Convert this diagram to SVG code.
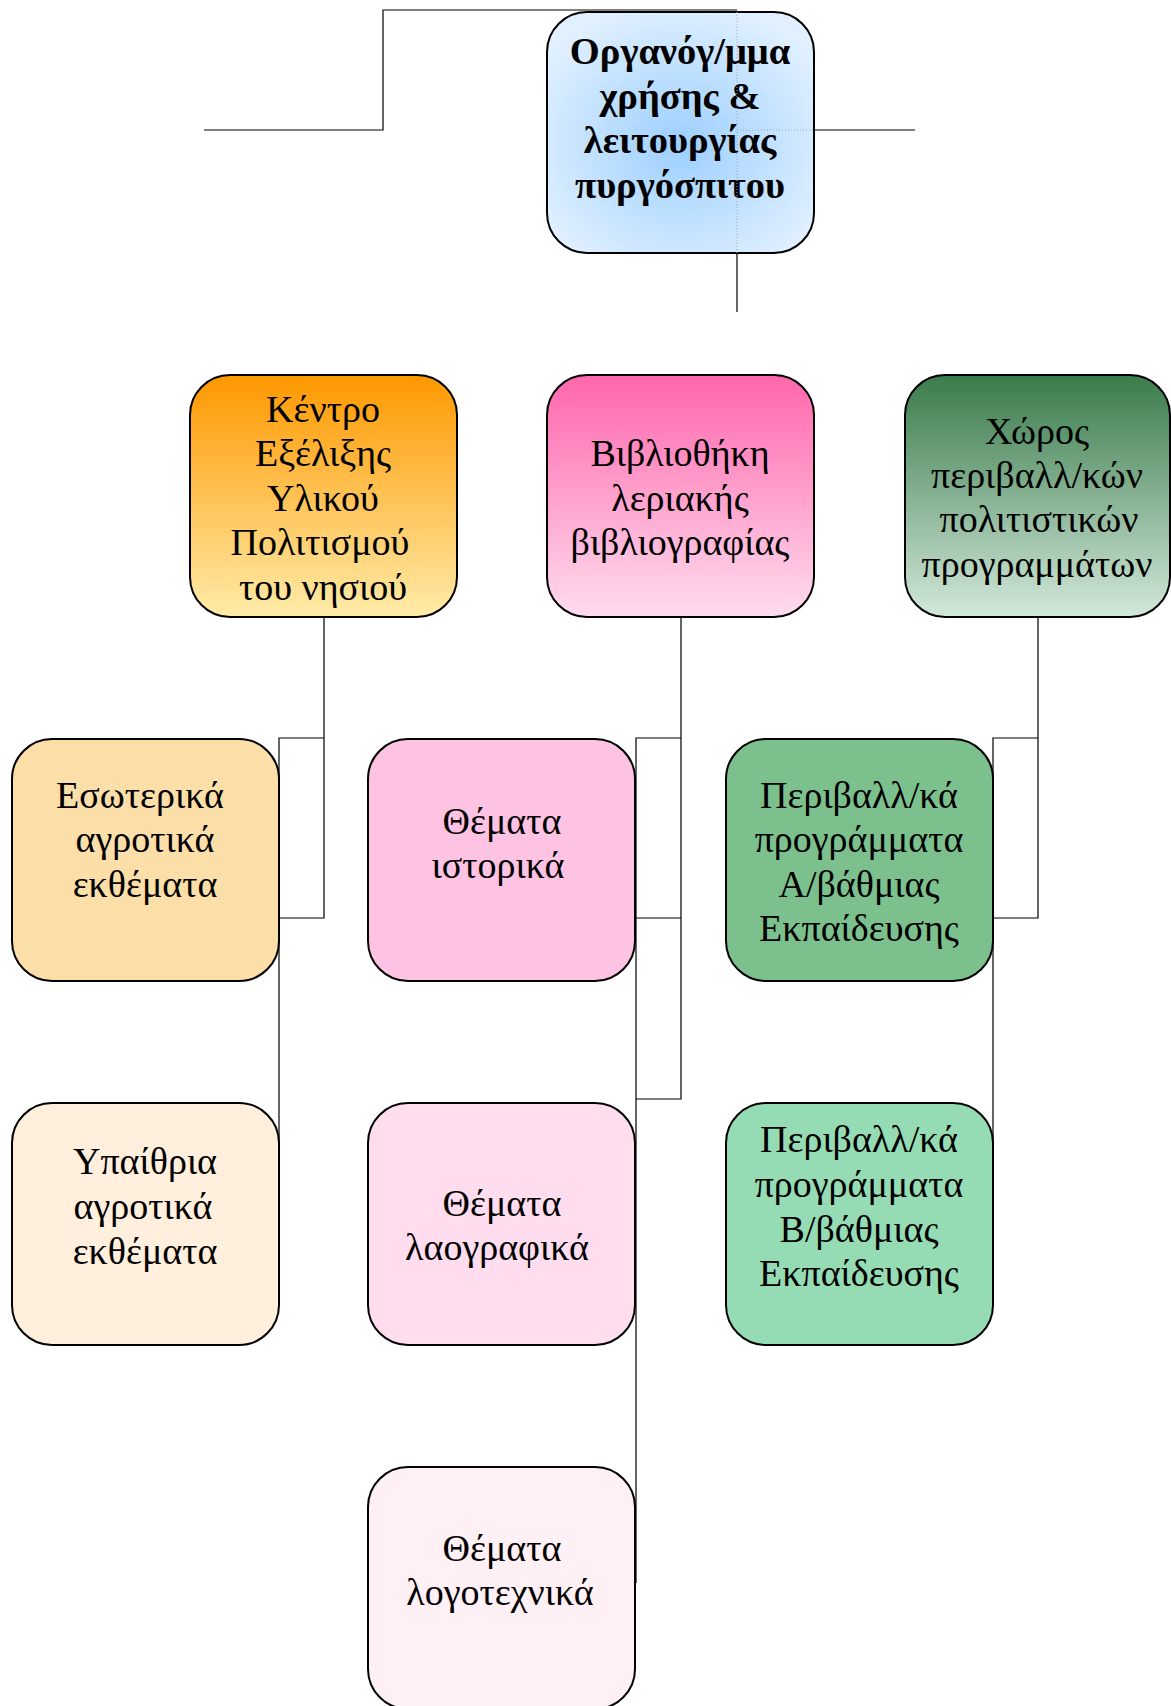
<svg xmlns="http://www.w3.org/2000/svg" width="1171" height="1706" viewBox="0 0 1171 1706">
<style>
.box{stroke:#000;stroke-width:2}
.t{font-family:"Liberation Serif","Times New Roman",serif;font-size:38px;fill:#000;text-anchor:middle}
.b{font-weight:bold;font-size:38.5px}
.ln{stroke:#000;stroke-width:1.2;fill:none}
.dot{stroke:#9aa8b8;stroke-width:1;stroke-dasharray:1 2;fill:none}
</style>
<defs>
<radialGradient id="gBlue" cx="0.5" cy="0.55" r="0.6">
<stop offset="0" stop-color="#9ccfff"/>
<stop offset="1" stop-color="#e0f0ff"/>
</radialGradient>
<linearGradient id="gOrange" x1="0" y1="0" x2="0" y2="1">
<stop offset="0" stop-color="#fe9800"/>
<stop offset="1" stop-color="#ffeba8"/>
</linearGradient>
<linearGradient id="gPink" x1="0" y1="0" x2="0" y2="1">
<stop offset="0" stop-color="#ff66ac"/>
<stop offset="1" stop-color="#ffdcee"/>
</linearGradient>
<linearGradient id="gGreen" x1="0" y1="0" x2="0" y2="1">
<stop offset="0" stop-color="#3a7b4b"/>
<stop offset="1" stop-color="#d2e8da"/>
</linearGradient>
</defs>
<rect width="1171" height="1706" fill="#fff"/>

<g id="n-root">
<rect class="box" x="547" y="12" width="267" height="241" rx="40" fill="url(#gBlue)"/>
<text class="t b" x="680" y="64">Οργανόγ/μμα</text>
<text class="t b" x="680" y="109">χρήσης &amp;</text>
<text class="t b" x="680" y="153">λειτουργίας</text>
<text class="t b" x="680" y="198">πυργόσπιτου</text>
</g>

<g id="n-kentro">
<rect class="box" x="190" y="375" width="267" height="242" rx="40" fill="url(#gOrange)"/>
<text class="t" x="323" y="422">Κέντρο</text>
<text class="t" x="323" y="466">Εξέλιξης</text>
<text class="t" x="323" y="511">Υλικού</text>
<text class="t" x="320" y="555">Πολιτισμού</text>
<text class="t" x="323" y="600">του νησιού</text>
</g>

<g id="n-vivliothiki">
<rect class="box" x="547" y="375" width="267" height="242" rx="40" fill="url(#gPink)"/>
<text class="t" x="680" y="466">Βιβλιοθήκη</text>
<text class="t" x="680" y="511">λεριακής</text>
<text class="t" x="680" y="555">βιβλιογραφίας</text>
</g>

<g id="n-choros">
<rect class="box" x="905" y="375" width="265" height="242" rx="40" fill="url(#gGreen)"/>
<text class="t" x="1037" y="444">Χώρος</text>
<text class="t" x="1037" y="488">περιβαλλ/κών</text>
<text class="t" x="1039" y="532">πολιτιστικών</text>
<text class="t" x="1037" y="577">προγραμμάτων</text>
</g>

<g id="n-esoterika">
<rect class="box" x="12" y="739" width="267" height="242" rx="40" fill="#fcdea9"/>
<text class="t" x="140" y="808">Εσωτερικά</text>
<text class="t" x="145" y="852">αγροτικά</text>
<text class="t" x="145" y="897">εκθέματα</text>
</g>

<g id="n-istorika">
<rect class="box" x="368" y="739" width="267" height="242" rx="40" fill="#fec2e2"/>
<text class="t" x="502" y="834">Θέματα</text>
<text class="t" x="498" y="878">ιστορικά</text>
</g>

<g id="n-perivA">
<rect class="box" x="726" y="739" width="267" height="242" rx="40" fill="#7cc08e"/>
<text class="t" x="859" y="808">Περιβαλλ/κά</text>
<text class="t" x="859" y="852">προγράμματα</text>
<text class="t" x="859" y="897">Α/βάθμιας</text>
<text class="t" x="859" y="941">Εκπαίδευσης</text>
</g>

<g id="n-ypaithria">
<rect class="box" x="12" y="1103" width="267" height="242" rx="40" fill="#ffefdc"/>
<text class="t" x="145" y="1174">Υπαίθρια</text>
<text class="t" x="143" y="1219">αγροτικά</text>
<text class="t" x="145" y="1264">εκθέματα</text>
</g>

<g id="n-laografika">
<rect class="box" x="368" y="1103" width="267" height="242" rx="40" fill="#ffdcee"/>
<text class="t" x="502" y="1216">Θέματα</text>
<text class="t" x="497" y="1260">λαογραφικά</text>
</g>

<g id="n-perivB">
<rect class="box" x="726" y="1103" width="267" height="242" rx="40" fill="#95dcb5"/>
<text class="t" x="859" y="1152">Περιβαλλ/κά</text>
<text class="t" x="859" y="1197">προγράμματα</text>
<text class="t" x="859" y="1242">Β/βάθμιας</text>
<text class="t" x="859" y="1286">Εκπαίδευσης</text>
</g>

<g id="n-logotechnika">
<rect class="box" x="368" y="1467" width="267" height="242" rx="40" fill="#fff0f6"/>
<text class="t" x="502" y="1561">Θέματα</text>
<text class="t" x="500" y="1605">λογοτεχνικά</text>
</g>

<g id="connectors">
<path class="ln" d="M204 130 H383 V10 H737"/>
<path class="dot" d="M737 12 V253 M737 130 H813"/>
<path class="ln" d="M814 130 H915"/>
<path class="ln" d="M737 253 V312"/>
<path class="ln" d="M324 617 V918 H279 M324 738 H279 V1223"/>
<path class="ln" d="M681 617 V1099 H636 M681 738 H636 V1583 M681 918 H636"/>
<path class="ln" d="M1038 617 V918 H993 M1038 738 H993 V1221"/>
</g>
</svg>
